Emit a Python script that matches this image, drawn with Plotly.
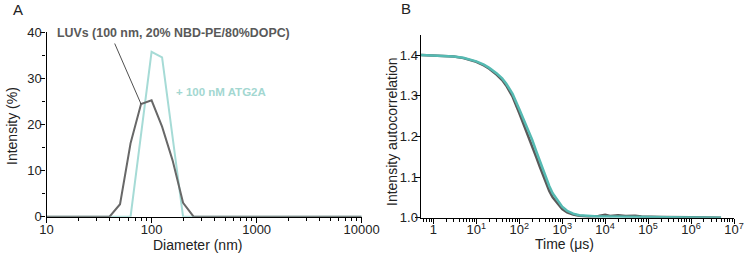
import plotly.graph_objects as go

# ---- Panel A data (DLS size distribution) ----
diam_luv = [10, 39.8, 50.1, 63.1, 79.4, 100, 125.9, 158.5, 199.5, 251.2, 10000]
int_luv = [0, 0, 2.7, 15.9, 24.4, 25.2, 19.5, 12.2, 3.0, 0, 0]
diam_atg = [10, 63.1, 100, 125.9, 199.5, 10000]
int_atg = [0, 0, 35.7, 34.5, 0, 0]
a_xticks = [10, 100, 1000, 10000]
a_xticktext = ["10", "100", "1000", "10000"]
a_yticks = [0, 10, 20, 30, 40]

# ---- Panel B data (intensity autocorrelation) ----
time_us = [0.52, 1, 2, 3, 5, 7, 10, 15, 20, 30, 40, 50, 70, 100, 130, 170, 200, 250,
           300, 400, 500, 600, 800, 1000, 1300, 1800, 2500, 4000, 7000, 1e4, 2e4,
           5e4, 1e5, 3e5, 1e6, 5e6]
g2_atg = [1.401, 1.400, 1.399, 1.397, 1.394, 1.390, 1.385, 1.377, 1.369, 1.355, 1.343,
          1.330, 1.305, 1.268, 1.240, 1.210, 1.192, 1.163, 1.140, 1.103, 1.078, 1.060,
          1.040, 1.027, 1.017, 1.010, 1.006, 1.004, 1.003, 1.003, 1.003, 1.002, 1.002,
          1.001, 1.001, 1.000]
time_us_luv = [0.52, 1, 2, 3, 5, 7, 10, 15, 20, 30, 40, 50, 70, 100, 130, 170, 200, 250,
               300, 400, 500, 600, 800, 1000, 1300, 1800, 2500, 4000, 7000, 1e4, 1.3e4,
               2e4, 3e4, 5e4, 7e4, 1e5, 2e5, 1e6, 5e6]
g2_luv = [1.401, 1.400, 1.399, 1.397, 1.393, 1.389, 1.384, 1.375, 1.367, 1.352, 1.339,
          1.325, 1.298, 1.258, 1.228, 1.197, 1.178, 1.149, 1.126, 1.090, 1.066, 1.050,
          1.032, 1.021, 1.013, 1.008, 1.005, 1.003, 1.004, 1.007, 1.004, 1.006, 1.004,
          1.005, 1.003, 1.003, 1.002, 1.001, 1.000]
b_xticks = [1, 10, 100, 1e3, 1e4, 1e5, 1e6, 1e7]
b_xticktext = ["1", "10<sup>1</sup>", "10<sup>2</sup>", "10<sup>3</sup>", "10<sup>4</sup>",
               "10<sup>5</sup>", "10<sup>6</sup>", "10<sup>7</sup>"]
b_yticks = [1.0, 1.1, 1.2, 1.3, 1.4]

GRAY = "#686868"
TEAL_LIGHT = "#a6dbd6"
TEAL = "#55bab2"
FONT = "Liberation Sans, Arial, sans-serif"

W, H = 753, 256

def px(x):
    return x / W

def py(y):
    return 1 - y / H

fig = go.Figure()
fig.add_trace(go.Scatter(x=diam_atg, y=int_atg, mode="lines", xaxis="x", yaxis="y",
                         line=dict(color=TEAL_LIGHT, width=2), showlegend=False))
fig.add_trace(go.Scatter(x=diam_luv, y=int_luv, mode="lines", xaxis="x", yaxis="y",
                         line=dict(color=GRAY, width=2), showlegend=False))
fig.add_trace(go.Scatter(x=time_us_luv, y=g2_luv, mode="lines", xaxis="x2", yaxis="y2",
                         line=dict(color="#5a5a5a", width=2.5), showlegend=False))
fig.add_trace(go.Scatter(x=time_us, y=g2_atg, mode="lines", xaxis="x2", yaxis="y2",
                         line=dict(color=TEAL, width=2.5), showlegend=False))

def minor_log(lo, hi):
    vals = []
    for e in range(lo, hi):
        for d in range(2, 10):
            vals.append(d * 10 ** e)
    return vals

axis_common = dict(showgrid=False, zeroline=False, showline=True, linecolor="black",
                   linewidth=1.3, ticks="outside", ticklen=5, tickwidth=1,
                   tickcolor="black", automargin=False,
                   tickfont=dict(family=FONT, size=13, color="#222"))

fig.update_layout(
    width=W, height=H, margin=dict(l=0, r=0, t=0, b=0),
    paper_bgcolor="white", plot_bgcolor="white",
    font=dict(family=FONT, color="#222"),
    xaxis=dict(axis_common, type="log", domain=[px(46.5), px(361.7)], range=[1, 4],
               tickvals=a_xticks, ticktext=a_xticktext, anchor="y",
               ticklabelstandoff=-4,
               minor=dict(tickvals=minor_log(1, 4), ticks="outside", ticklen=3,
                          tickcolor="black")),
    yaxis=dict(axis_common, domain=[py(216.7), py(32)], range=[0, 40], tickvals=a_yticks,
               anchor="x", ticklabelstandoff=-4,
               minor=dict(tickvals=[5, 15, 25, 35], ticks="outside", ticklen=3,
                          tickcolor="black")),
    xaxis2=dict(axis_common, type="log", domain=[px(420.7), px(734)], range=[-0.294, 7.0],
                tickvals=b_xticks, ticktext=b_xticktext, anchor="y2",
                ticklabelstandoff=-5,
                minor=dict(tickvals=[0.6, 0.7, 0.8, 0.9] + minor_log(0, 7), ticks="outside",
                           ticklen=3, tickcolor="black")),
    yaxis2=dict(axis_common, domain=[py(217.7), py(35)], range=[1.0, 1.45],
                tickvals=b_yticks, tickformat=".1f", anchor="x2", ticklabelstandoff=-6),
)

def txt(text, x, y, size=14, color="#222", angle=0):
    return dict(text=text, xref="paper", yref="paper", x=px(x), y=py(y),
                xanchor="center", yanchor="middle", showarrow=False, textangle=angle,
                font=dict(size=size, family=FONT, color=color))

ann = [
    txt("A", 18, 9.5, 15),
    txt("B", 406, 8.5, 15),
    txt("Diameter (nm)", 197, 245),
    txt("Intensity (%)", 12, 126, angle=-90),
    txt("Time (μs)", 564, 244),
    txt("Intensity autocorrelation", 391.5, 131.5, angle=-90),
    txt("<b>LUVs (100 nm, 20% NBD-PE/80%DOPC)</b>", 173, 32.5, 12.4, "#595959"),
    txt("<b>+ 100 nM ATG2A</b>", 221, 92.3, 11.5, "#a3d7d1"),
]
# leader line from label to the LUV curve vertex
ann.append(dict(text="", xref="x", yref="y", x=1.8998, y=int_luv[4],
                ax=-27, ay=-62, axref="pixel", ayref="pixel", showarrow=True,
                arrowhead=0, arrowwidth=0.8, arrowcolor="#222"))
fig.update_layout(annotations=ann)

fig.write_html("out.html", config={"displayModeBar": False},
               post_script="document.body.style.margin='0';document.body.style.padding='0';")
